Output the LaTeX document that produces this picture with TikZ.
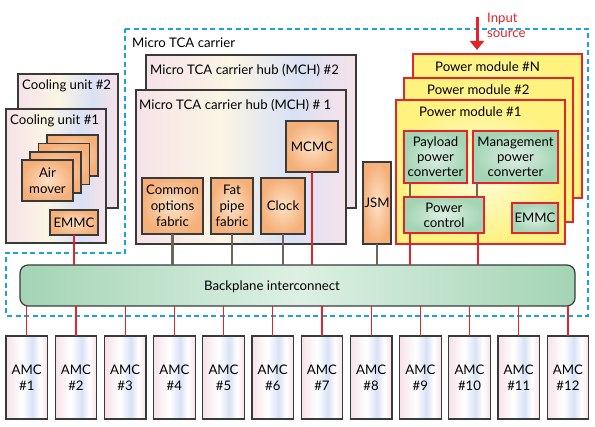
\documentclass[tikz,border=0pt]{standalone}
\usepackage{fontspec}
\setmainfont{Lato}
\usetikzlibrary{arrows.meta,shadings}
\definecolor{bord}{HTML}{3A3A3A}
\definecolor{redc}{HTML}{E3242B}
\definecolor{orE}{HTML}{F5B07A}
\definecolor{orC}{HTML}{FDE2C6}
\definecolor{grE}{HTML}{A3D4B4}
\definecolor{grC}{HTML}{DDF0E3}
\definecolor{ywE}{HTML}{FFF27F}
\definecolor{ywC}{HTML}{FFFCE0}
\definecolor{pk}{HTML}{F6E2E9}
\definecolor{lyw}{HTML}{FBF5E4}
\definecolor{lbl}{HTML}{D9E1F4}
\definecolor{conn}{HTML}{6E645C}
\definecolor{cyanc}{HTML}{19A3D6}
\pgfdeclarehorizontalshading{pastel}{100bp}{color(0bp)=(pk); color(25bp)=(pk); color(45bp)=(lyw); color(62bp)=(lbl); color(75bp)=(pk); color(100bp)=(pk)}
\pgfdeclarehorizontalshading{amcsh}{100bp}{color(0bp)=(pk); color(25bp)=(pk); color(44bp)=(white); color(57bp)=(lbl); color(66bp)=(white); color(75bp)=(pk); color(100bp)=(pk)}
\newcommand\fs{\fontsize{13.2}{16}\selectfont}
\newcommand\fsb{\fontsize{13.2}{15}\selectfont}
\tikzset{
  base/.style={draw=bord, line width=1.2pt, anchor=north west, inner sep=0pt, outer sep=0pt, align=center, font=\fs},
  pastelbox/.style={base, shading=pastel},
  amcbox/.style={base, shading=amcsh, minimum width=41.5pt, minimum height=83pt},
  orangebox/.style={base, inner color=orC, outer color=orE},
  greenbox/.style={base, draw=redc, inner color=grC, outer color=grE, font=\fsb},
  pmbox/.style={base, draw=redc, inner color=ywC, outer color=ywE, minimum width=169pt, minimum height=144pt},
  title/.style={anchor=west, inner sep=0pt, font=\fs},
  redtext/.style={anchor=base west, inner sep=0pt, font=\fs, text=redc},
  redline/.style={draw=redc, line width=1.3pt},
  grayline/.style={draw=conn, line width=2.4pt},
  carrier/.style={draw=cyanc, line width=2pt, dash pattern=on 5pt off 3.5pt},
  inarrow/.style={draw=redc, line width=3pt, -{Triangle[length=9pt,width=14pt]}}
}
\begin{document}
\begin{tikzpicture}[x=1pt,y=-1pt]
\useasboundingbox (0,0) rectangle (595,427);
% carrier outline
\draw[carrier] (125,29) -- (588,29) -- (588,316) -- (6,316) -- (6,253) -- (125,253) -- cycle;
\node[title] (carriertxt) at (132,43) {Micro TCA carrier};
% cooling units
\node[pastelbox, minimum width=100pt, minimum height=134pt] (cool2) at (18,74) {};
\node[title] (cool2txt) at (22,86) {Cooling unit \#2};
\node[pastelbox, minimum width=100pt, minimum height=134pt] (cool1) at (6,109) {};
\node[title] (cool1txt) at (10,121) {Cooling unit \#1};
\node[orangebox, minimum width=51pt, minimum height=41pt] (am4) at (47,135) {};
\node[orangebox, minimum width=51pt, minimum height=41pt] (am3) at (38.5,143.5) {};
\node[orangebox, minimum width=51pt, minimum height=41pt] (am2) at (30,152) {};
\node[orangebox, minimum width=51pt, minimum height=41pt] (am1) at (22,160) {Air\\mover};
\node[orangebox, minimum width=48pt, minimum height=25pt] (emmc1) at (50,210) {EMMC};
% MCH
\node[pastelbox, minimum width=210pt, minimum height=153pt] (mch2) at (146,55) {};
\node[title] (mch2txt) at (150,70) {Micro TCA carrier hub (MCH) \#2};
\node[pastelbox, minimum width=210pt, minimum height=154pt] (mch1) at (136,90) {};
\node[title] (mch1txt) at (139,105) {Micro TCA carrier hub (MCH) \# 1};
\node[orangebox, minimum width=52pt, minimum height=51pt] (mcmc) at (286,121) {MCMC};
\node[orangebox, minimum width=61pt, minimum height=56pt] (cof) at (142,178) {Common\\options\\fabric};
\node[orangebox, minimum width=42pt, minimum height=56pt] (fpf) at (211,178) {Fat\\pipe\\fabric};
\node[orangebox, minimum width=44pt, minimum height=56pt] (clk) at (261,178) {Clock};
\node[orangebox, minimum width=28pt, minimum height=82pt] (jsm) at (363,162) {JSM};
% power modules
\node[pmbox] (pmN) at (413,54) {};
\node[title] (pmNtxt) at (435,67) {Power module \#N};
\node[pmbox] (pm2) at (404,78) {};
\node[title] (pm2txt) at (427,90) {Power module \#2};
\node[pmbox] (pm1) at (396,100) {};
\node[title] (pm1txt) at (419,112) {Power module \#1};
\node[greenbox, minimum width=63pt, minimum height=52pt] (ppc) at (404,131) {Payload\\power\\converter};
\node[greenbox, minimum width=85pt, minimum height=52pt] (mpc) at (473,131) {Management\\power\\converter};
\node[greenbox, minimum width=80pt, minimum height=36pt] (pctl) at (404,197) {Power\\control};
\node[greenbox, minimum width=46pt, minimum height=30pt] (emmc2) at (512,203) {EMMC};
% input source
\coordinate (insrc) at (477,17);
\draw[inarrow] (insrc) -- ([yshift=4pt]insrc |- pmN.north);
\node[redtext] (intxt1) at (487,23) {Input};
\node[redtext] (intxt2) at (487,38) {source};
% backplane
\node[base, rounded corners=8pt, left color=grE, right color=grE, middle color=grC, minimum width=555pt, minimum height=41pt] (bp) at (20,265) {};
\node[inner sep=0pt, font=\fs] (bptxt) at (272,287) {Backplane interconnect};
% connectors
\draw[redline] (emmc1.south) -- (emmc1.south |- bp.north);
\draw[grayline] (cof.south) -- (cof.south |- bp.north);
\draw[grayline] (fpf.south) -- (fpf.south |- bp.north);
\draw[grayline] (clk.south) -- (clk.south |- bp.north);
\draw[redline] (mcmc.south) -- (mcmc.south |- bp.north);
\draw[grayline] (jsm.south) -- (jsm.south |- bp.north);
\draw[grayline] ([xshift=6pt]ppc.south west) -- ([xshift=6pt]ppc.south west |- pctl.north);
\draw[grayline] ([xshift=4pt]mpc.south west) -- ([xshift=4pt]mpc.south west |- pctl.north);
\draw[redline] ([xshift=6pt]pctl.south west) -- ([xshift=6pt]pctl.south west |- bp.north);
\draw[redline] ([xshift=-6pt]pctl.south east) -- ([xshift=-6pt]pctl.south east |- bp.north);
% AMCs
\foreach \i in {1,...,12} {
  \pgfmathsetmacro\xx{6+(\i-1)*49.2}
  \node[amcbox] (amc\i) at (\xx,336) {AMC\\\#\i};
  \draw[redline] (amc\i.north |- bp.south) -- (amc\i.north);
}
\end{tikzpicture}
\end{document}
